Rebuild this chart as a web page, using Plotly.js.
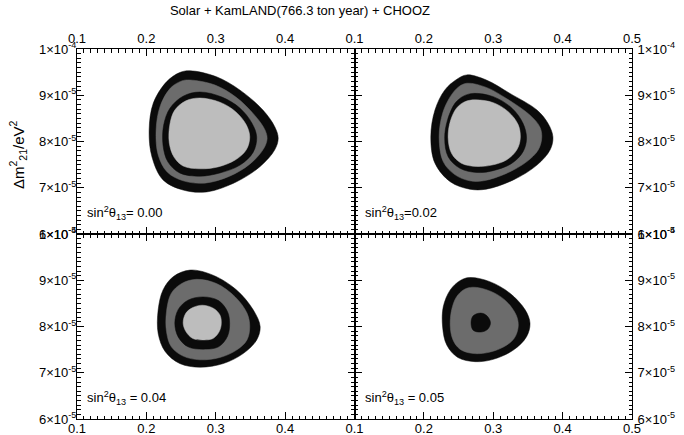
<!DOCTYPE html>
<html>
<head>
<meta charset="utf-8">
<script src="https://cdn.plot.ly/plotly-3.0.1.min.js"></script>
<style>
  html, body { margin: 0; padding: 0; background: #fff; }
  #chart { width: 684px; height: 435px; }
</style>
</head>
<body>
<div id="chart"></div>
<script>
// Allowed regions in the (sin^2 theta12, dm^2_21) plane for four values of sin^2 theta13.
// Each region is a closed boundary: x = sin^2 theta12, y = dm^2_21 in units of 1e-5 eV^2.

const s13Values = [0.00, 0.02, 0.04, 0.05];
const s13Labels = [
  'sin<sup>2</sup>θ<sub>13</sub>= 0.00',
  'sin<sup>2</sup>θ<sub>13</sub>=0.02',
  'sin<sup>2</sup>θ<sub>13</sub> = 0.04',
  'sin<sup>2</sup>θ<sub>13</sub> = 0.05'
];

const xTickVals = [0.1, 0.2, 0.3, 0.4, 0.5];
const xTickText = ['0.1', '0.2', '0.3', '0.4', '0.5'];
const yTickVals = [6e-5, 7e-5, 8e-5, 9e-5, 1e-4];
const yTickText = ['6×10<sup>-5</sup>', '7×10<sup>-5</sup>', '8×10<sup>-5</sup>', '9×10<sup>-5</sup>', '1×10<sup>-4</sup>'];

// sin^2 theta13 = 0.00
const p1OuterX = [0.263, 0.301, 0.335, 0.368, 0.385, 0.390, 0.385, 0.364, 0.330, 0.287, 0.253, 0.224, 0.208, 0.204, 0.210, 0.229, 0.248];
const p1OuterY = [9.53, 9.40, 9.11, 8.68, 8.32, 8.07, 7.82, 7.46, 7.13, 6.91, 6.95, 7.17, 7.67, 8.25, 8.83, 9.29, 9.49];
const p1MidX = [0.263, 0.299, 0.329, 0.356, 0.371, 0.374, 0.368, 0.349, 0.320, 0.284, 0.253, 0.230, 0.217, 0.214, 0.220, 0.235, 0.251];
const p1MidY = [9.33, 9.22, 8.96, 8.57, 8.25, 8.05, 7.82, 7.51, 7.25, 7.10, 7.15, 7.34, 7.71, 8.25, 8.77, 9.16, 9.31];
const p1RingX = [0.277, 0.309, 0.335, 0.352, 0.359, 0.354, 0.335, 0.306, 0.277, 0.248, 0.231, 0.224, 0.225, 0.234, 0.253];
const p1RingY = [9.07, 8.96, 8.72, 8.40, 8.10, 7.77, 7.49, 7.32, 7.25, 7.32, 7.56, 7.92, 8.36, 8.72, 8.98];
const p1CoreX = [0.277, 0.306, 0.329, 0.344, 0.349, 0.344, 0.328, 0.303, 0.277, 0.253, 0.240, 0.233, 0.234, 0.241, 0.257];
const p1CoreY = [8.94, 8.85, 8.64, 8.36, 8.10, 7.82, 7.60, 7.45, 7.41, 7.47, 7.66, 7.97, 8.38, 8.68, 8.88];

// sin^2 theta13 = 0.02
const p2OuterX = [0.262, 0.290, 0.324, 0.363, 0.379, 0.386, 0.382, 0.363, 0.329, 0.290, 0.266, 0.238, 0.216, 0.210, 0.216, 0.230, 0.247];
const p2OuterY = [9.44, 9.33, 9.04, 8.68, 8.39, 8.10, 7.82, 7.49, 7.17, 6.97, 6.97, 7.13, 7.53, 8.10, 8.68, 9.11, 9.34];
const p2MidX = [0.262, 0.290, 0.319, 0.353, 0.367, 0.370, 0.365, 0.348, 0.319, 0.286, 0.266, 0.245, 0.228, 0.222, 0.227, 0.238, 0.250];
const p2MidY = [9.26, 9.17, 8.93, 8.57, 8.32, 8.10, 7.82, 7.56, 7.31, 7.15, 7.15, 7.28, 7.56, 8.10, 8.61, 8.97, 9.18];
const p2RingX = [0.271, 0.300, 0.327, 0.343, 0.348, 0.343, 0.327, 0.300, 0.276, 0.252, 0.235, 0.230, 0.234, 0.245, 0.257];
const p2RingY = [9.04, 8.97, 8.72, 8.39, 8.07, 7.78, 7.53, 7.37, 7.33, 7.42, 7.67, 8.07, 8.46, 8.83, 8.98];
const p2CoreX = [0.274, 0.300, 0.322, 0.336, 0.339, 0.334, 0.319, 0.298, 0.276, 0.254, 0.240, 0.235, 0.238, 0.247, 0.259];
const p2CoreY = [8.90, 8.84, 8.64, 8.36, 8.07, 7.82, 7.60, 7.49, 7.46, 7.53, 7.74, 8.07, 8.43, 8.72, 8.86];

// sin^2 theta13 = 0.04
const p3OuterX = [0.263, 0.296, 0.330, 0.354, 0.364, 0.359, 0.340, 0.311, 0.277, 0.248, 0.227, 0.217, 0.217, 0.224, 0.239];
const p3OuterY = [9.22, 9.11, 8.79, 8.36, 8.00, 7.71, 7.42, 7.20, 7.12, 7.20, 7.46, 7.85, 8.36, 8.79, 9.08];
const p3MidX = [0.272, 0.301, 0.328, 0.345, 0.349, 0.345, 0.330, 0.306, 0.277, 0.253, 0.236, 0.229, 0.229, 0.236, 0.251];
const p3MidY = [9.02, 8.93, 8.64, 8.29, 8.00, 7.71, 7.49, 7.33, 7.28, 7.36, 7.56, 7.89, 8.32, 8.72, 8.93];
const p3RingX = [0.282, 0.304, 0.317, 0.320, 0.317, 0.304, 0.282, 0.260, 0.246, 0.241, 0.246, 0.260];
const p3RingY = [8.64, 8.56, 8.32, 8.07, 7.79, 7.56, 7.51, 7.56, 7.77, 8.07, 8.37, 8.57];
const p3CoreX = [0.281, 0.297, 0.306, 0.308, 0.305, 0.296, 0.281, 0.267, 0.257, 0.253, 0.257, 0.267];
const p3CoreY = [8.46, 8.39, 8.25, 8.07, 7.89, 7.74, 7.71, 7.74, 7.89, 8.08, 8.29, 8.41];

// sin^2 theta13 = 0.05
const p4OuterX = [0.266, 0.295, 0.324, 0.346, 0.353, 0.348, 0.329, 0.300, 0.274, 0.249, 0.233, 0.227, 0.228, 0.238, 0.252];
const p4OuterY = [9.06, 8.97, 8.72, 8.36, 8.07, 7.78, 7.49, 7.29, 7.24, 7.33, 7.60, 7.99, 8.43, 8.79, 8.99];
const p4MidX = [0.271, 0.295, 0.317, 0.333, 0.336, 0.330, 0.314, 0.290, 0.269, 0.252, 0.242, 0.238, 0.240, 0.247, 0.258];
const p4MidY = [8.85, 8.77, 8.57, 8.25, 8.00, 7.74, 7.55, 7.43, 7.42, 7.51, 7.71, 8.00, 8.36, 8.64, 8.80];
const p4RingX = [0.282, 0.291, 0.296, 0.292, 0.282, 0.271, 0.268, 0.271];
const p4RingY = [8.29, 8.23, 8.08, 7.94, 7.88, 7.92, 8.08, 8.23];

const panels = [
  { xa: 'x',  ya: 'y',  regions: [[p1OuterX, p1OuterY], [p1MidX, p1MidY], [p1RingX, p1RingY], [p1CoreX, p1CoreY]] },
  { xa: 'x2', ya: 'y2', regions: [[p2OuterX, p2OuterY], [p2MidX, p2MidY], [p2RingX, p2RingY], [p2CoreX, p2CoreY]] },
  { xa: 'x3', ya: 'y3', regions: [[p3OuterX, p3OuterY], [p3MidX, p3MidY], [p3RingX, p3RingY], [p3CoreX, p3CoreY]] },
  { xa: 'x4', ya: 'y4', regions: [[p4OuterX, p4OuterY], [p4MidX, p4MidY], [p4RingX, p4RingY]] }
];

// fill colours from the outermost region inwards
const regionColors = ['#0b0b0b', '#6c6c6c', '#0b0b0b', '#bdbdbd'];

const closeLoop = arr => arr.concat([arr[0]]);

const traces = [];
panels.forEach(p => {
  p.regions.forEach((r, i) => {
    traces.push({
      type: 'scatter',
      mode: 'lines',
      x: closeLoop(r[0]),
      y: closeLoop(r[1]).map(v => v * 1e-5),
      xaxis: p.xa,
      yaxis: p.ya,
      fill: 'toself',
      fillcolor: regionColors[i],
      line: { color: regionColors[i], width: 0.5, shape: 'spline', smoothing: 1 },
      hoverinfo: 'skip',
      showlegend: false
    });
  });
});

const font = 'Liberation Sans, Arial, Helvetica, sans-serif';

function xAxis(domain, anchor, side, vals) {
  return {
    domain: domain, anchor: anchor, side: side,
    range: [0.1, 0.5],
    tickmode: 'array',
    tickvals: vals,
    ticktext: vals.map(v => xTickText[xTickVals.indexOf(v)]),
    ticks: 'inside', ticklen: 7, tickwidth: 1, tickcolor: '#000',
    ticklabelstandoff: side === 'bottom' ? -3 : 0,
    minor: { dtick: 0.01, tick0: 0.1, ticks: 'inside', ticklen: 3.5, tickwidth: 1, tickcolor: '#000' },
    showline: true, linecolor: '#000', linewidth: 1, mirror: 'ticks',
    showgrid: false, zeroline: false,
    tickfont: { family: font, size: 13, color: '#000' },
    fixedrange: true
  };
}

function yAxis(domain, anchor, side) {
  return {
    domain: domain, anchor: anchor, side: side,
    range: [6e-5, 1e-4],
    tickmode: 'array',
    tickvals: yTickVals,
    ticktext: yTickText,
    ticks: 'inside', ticklen: 7, tickwidth: 1, tickcolor: '#000',
    ticklabelstandoff: side === 'left' ? -3 : 2,
    minor: { dtick: 1e-6, tick0: 6e-5, ticks: 'inside', ticklen: 3.5, tickwidth: 1, tickcolor: '#000' },
    showline: true, linecolor: '#000', linewidth: 1, mirror: 'ticks',
    showgrid: false, zeroline: false,
    tickfont: { family: font, size: 13, color: '#000' },
    fixedrange: true
  };
}

const leftVals = [0.1, 0.2, 0.3, 0.4];
const rightVals = [0.1, 0.2, 0.3, 0.4, 0.5];

const annotations = [];
const labelPos = [
  { xref: 'x',  yref: 'y'  },
  { xref: 'x2', yref: 'y2' },
  { xref: 'x3', yref: 'y3' },
  { xref: 'x4', yref: 'y4' }
];
s13Values.forEach((v, i) => {
  annotations.push({
    xref: labelPos[i].xref, yref: labelPos[i].yref,
    x: 0.112, y: 6.45e-5,
    xanchor: 'left', yanchor: 'middle',
    text: s13Labels[i], showarrow: false,
    font: { family: font, size: 13, color: '#000' }
  });
});
// vertical axis title
annotations.push({
  xref: 'paper', yref: 'paper', x: -0.106, y: 0.714,
  text: 'Δm<sup>2</sup><sub>21</sub>/eV<sup>2</sup>', textangle: -90,
  showarrow: false, xanchor: 'center', yanchor: 'middle',
  font: { family: font, size: 15, color: '#000' }
});
// horizontal axis title, sitting at the lower page edge
annotations.push({
  xref: 'paper', yref: 'paper', x: 0.466, y: -0.064,
  text: 'sin<sup>2</sup>θ<sub>12</sub>', showarrow: false,
  xanchor: 'center', yanchor: 'middle',
  font: { family: font, size: 14, color: '#000' }
});

const layout = {
  width: 684, height: 435,
  margin: { l: 77, r: 52, t: 49, b: 16 },
  paper_bgcolor: '#fff', plot_bgcolor: '#fff',
  showlegend: false,
  title: {
    text: 'Solar + KamLAND(766.3 ton year) + CHOOZ',
    x: 0.4386, xanchor: 'center', xref: 'container',
    y: 0.977, yanchor: 'middle', yref: 'container',
    font: { family: font, size: 13, color: '#000' }
  },
  xaxis:  xAxis([0, 0.5], 'y',  'top',    leftVals),
  xaxis2: xAxis([0.5, 1], 'y2', 'top',    rightVals),
  xaxis3: xAxis([0, 0.5], 'y3', 'bottom', leftVals),
  xaxis4: xAxis([0.5, 1], 'y4', 'bottom', rightVals),
  yaxis:  yAxis([0.5, 1], 'x',  'left'),
  yaxis2: yAxis([0.5, 1], 'x2', 'right'),
  yaxis3: yAxis([0, 0.5], 'x3', 'left'),
  yaxis4: yAxis([0, 0.5], 'x4', 'right'),
  annotations: annotations
};

Plotly.newPlot('chart', traces, layout, { displayModeBar: false, staticPlot: true });
</script>
</body>
</html>
